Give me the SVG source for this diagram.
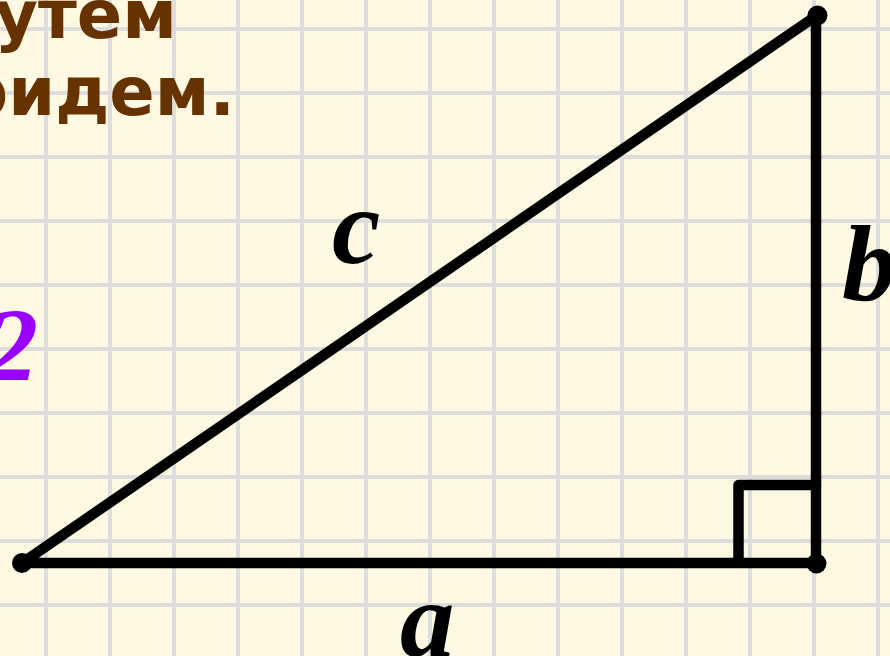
<svg xmlns="http://www.w3.org/2000/svg" width="890" height="656" viewBox="0 0 890 656">
<style>
.grid line{stroke:#DDDDDD;stroke-width:4}
.title{font-family:"DejaVu Sans","Verdana",sans-serif;font-weight:bold;font-size:67px;fill:#663300}
.lbl{font-family:"Liberation Serif","Times New Roman",serif;font-weight:bold;font-style:italic;font-size:109px;fill:#000}
.edge{stroke:#000;stroke-width:10.5;stroke-linecap:round;stroke-linejoin:round;fill:none}
</style>
<rect width="890" height="656" fill="#FFF8E3"/>
<g class="grid">
<line x1="46" y1="0" x2="46" y2="656"/><line x1="110" y1="0" x2="110" y2="656"/><line x1="174" y1="0" x2="174" y2="656"/><line x1="238" y1="0" x2="238" y2="656"/><line x1="302" y1="0" x2="302" y2="656"/><line x1="366" y1="0" x2="366" y2="656"/><line x1="430" y1="0" x2="430" y2="656"/><line x1="494" y1="0" x2="494" y2="656"/><line x1="558" y1="0" x2="558" y2="656"/><line x1="622" y1="0" x2="622" y2="656"/><line x1="686" y1="0" x2="686" y2="656"/><line x1="750" y1="0" x2="750" y2="656"/><line x1="814" y1="0" x2="814" y2="656"/><line x1="878" y1="0" x2="878" y2="656"/>
<line x1="0" y1="29" x2="890" y2="29"/><line x1="0" y1="93" x2="890" y2="93"/><line x1="0" y1="157" x2="890" y2="157"/><line x1="0" y1="221" x2="890" y2="221"/><line x1="0" y1="285" x2="890" y2="285"/><line x1="0" y1="349" x2="890" y2="349"/><line x1="0" y1="413" x2="890" y2="413"/><line x1="0" y1="477" x2="890" y2="477"/><line x1="0" y1="541" x2="890" y2="541"/><line x1="0" y1="605" x2="890" y2="605"/>
</g>
<g id="title">
<text class="title" x="177" y="38" text-anchor="end">путем</text>
<text class="title" x="235" y="115" text-anchor="end">придем.</text>
</g>
<g id="formula-two">
<text x="38" y="380" text-anchor="end" font-family="Liberation Serif, Times New Roman, serif" font-weight="bold" font-style="italic" font-size="104" fill="#9900FF">2</text>
</g>
<g id="connectors">
<polyline class="edge" points="738.5,562.5 738.5,485 816,485"/>
<path class="edge" d="M22,563 L816,563 L816,16 Z"/>
</g>
<g id="vertices" fill="#000">
<circle cx="22" cy="563" r="10"/>
<circle cx="816.5" cy="563.5" r="10"/>
<circle cx="817.5" cy="15.5" r="10"/>
</g>
<g id="label-c"><text class="lbl" x="332" y="263">c</text></g>
<g id="label-b"><text class="lbl" x="842" y="300">b</text></g>
<g id="label-a"><text class="lbl" x="400" y="656">a</text></g>
</svg>
